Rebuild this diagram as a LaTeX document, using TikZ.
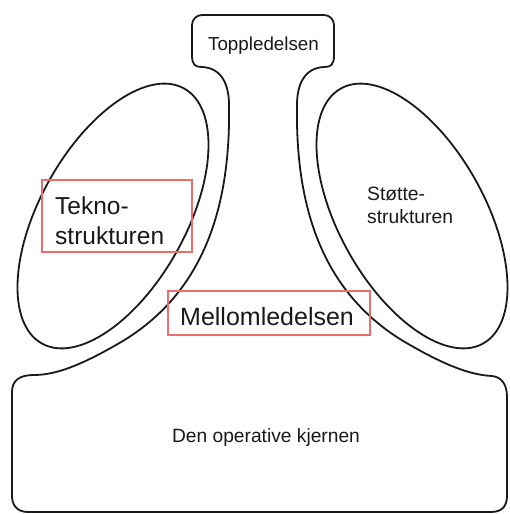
\documentclass[tikz,border=0pt]{standalone}
\usepackage{fontspec}
\setmainfont{Liberation Sans}
\definecolor{boxred}{RGB}{235,110,110}
\definecolor{ink}{RGB}{25,25,25}
\begin{document}
\begin{tikzpicture}[x=1pt,y=-1pt,
  outline/.style={line width=1.8pt, draw=ink, line join=round},
  redbox/.style={draw=boxred, line width=1.1pt, inner sep=0pt},
  lbl/.style={inner sep=0pt, text=ink, align=left}]
\useasboundingbox (0,0) rectangle (510,514);
% main outline
\draw[outline] (192,55) -- (192,25) .. controls (192,19.5) and (196.5,15) .. (202,15)
  -- (324,15) .. controls (329.5,15) and (334,19.5) .. (334,25)
  -- (334,55) .. controls (334,65) and (331,67) .. (324,67)
  .. controls (304,68) and (297,85) .. (297,105)
  .. controls (295,220) and (330,300) .. (410,345)
  .. controls (445,365) and (470,375) .. (492,376)
  .. controls (502,377) and (507,385) .. (507,397)
  -- (507,496) .. controls (507,505) and (503,512) .. (491,512)
  -- (28,512) .. controls (17,512) and (12,505) .. (12,496)
  -- (12,392) .. controls (12,380) and (20,375) .. (34,375)
  .. controls (56,375) and (81,365) .. (116,345)
  .. controls (196,300) and (231,220) .. (229,105)
  .. controls (229,85) and (222,68) .. (202,67)
  .. controls (195,67) and (192,65) .. (192,55) -- cycle;
% ellipses
\draw[outline, rotate around={60.85:(113,216)}] (113,216) ellipse [x radius=146pt, y radius=73pt];
\draw[outline, rotate around={-60.85:(412,216)}] (412,216) ellipse [x radius=146pt, y radius=73pt];
% texts
\node[lbl, anchor=base, font=\fontsize{18.8}{22}\selectfont] (top) at (263.5,50) {Toppledelsen};
\node[lbl, anchor=base, font=\fontsize{19.2}{23}\selectfont] (kjerne) at (266,442) {Den operative kjernen};
\node[lbl, anchor=base west, font=\fontsize{25}{30}\selectfont] (midt) at (180,325) {Mellomledelsen};
\node[lbl, anchor=base west, font=\fontsize{24.5}{30}\selectfont] (tekno) at (55,244) {Tekno-\\strukturen};
\node[lbl, anchor=base west, font=\fontsize{19.3}{23}\selectfont] (stotte) at (367,223) {Støtte-\\strukturen};
% red frames
\node[redbox, minimum width=150pt, minimum height=72pt] (teknobox) at (117,216) {};
\node[redbox, minimum width=202pt, minimum height=44pt] (midtbox) at (269,313) {};
\end{tikzpicture}
\end{document}
